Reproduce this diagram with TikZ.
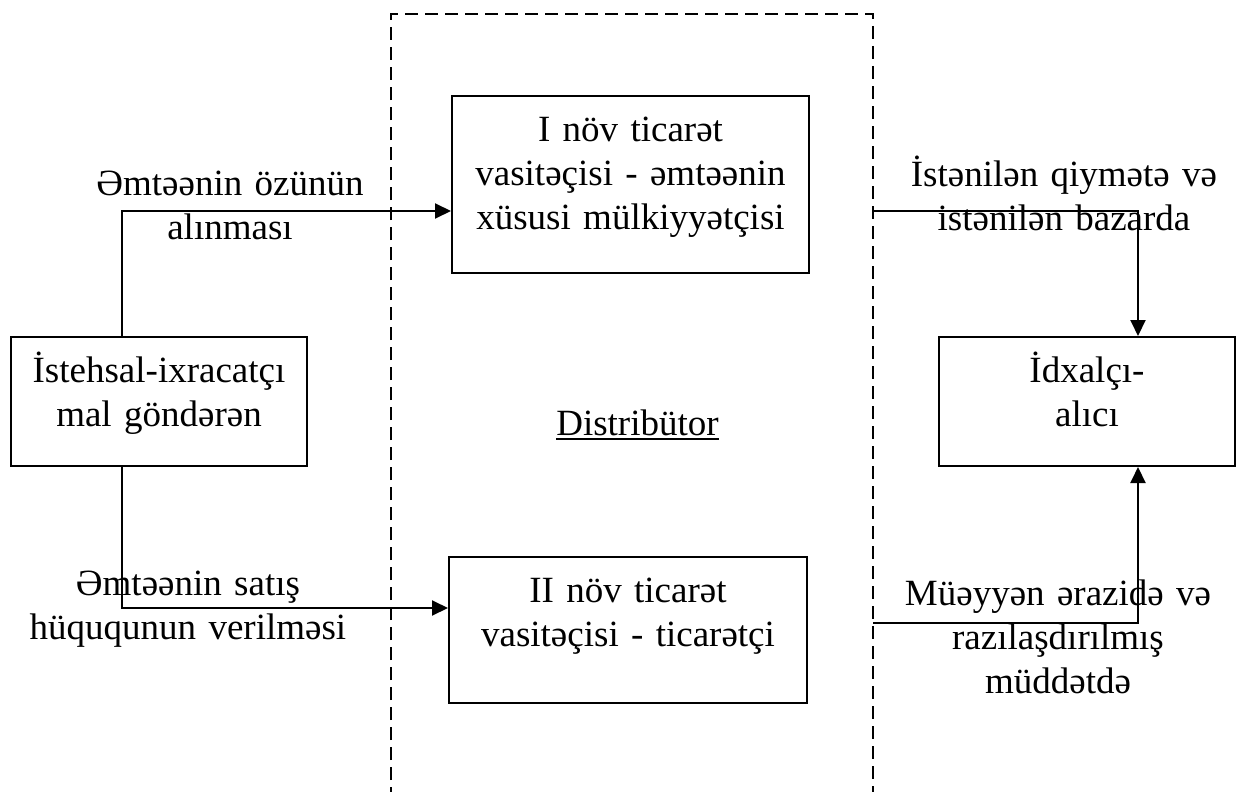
\documentclass[tikz,border=0pt]{standalone}
\usepackage{fontspec}
\setmainfont{Liberation Serif}
\usetikzlibrary{arrows.meta}
\begin{document}
\begin{tikzpicture}[x=1pt,y=-1pt,
  box/.style={draw, line width=2pt, rectangle, inner sep=0pt},
  txt/.style={font=\fontsize{37}{44}\selectfont, align=center, text width=420pt, inner sep=0pt, anchor=base},
  link/.style={line width=2pt},
  arr/.style={link, -{Triangle[length=16pt,width=15pt]}},
  frame/.style={line width=2pt, dash pattern=on 13pt off 7pt}]
\useasboundingbox (0,0) rectangle (1237,792);

% distributor frame (open at the bottom)
\coordinate (fl) at (391,14);
\coordinate (fr) at (873,14);
\draw[frame] (391,800) -- (fl) -- (fr) -- (873,800);
\node[txt] (dist) at (637.5,435) {Distribütor};
\draw[line width=2pt] ([yshift=-4pt]dist.base -| 556,0) -- ([yshift=-4pt]dist.base -| 719,0);

% boxes
\node[box, minimum width=357pt, minimum height=177pt] (B1) at (630.5,184.5) {};
\node[box, minimum width=358pt, minimum height=146pt] (B2) at (628,630) {};
\node[box, minimum width=296pt, minimum height=129pt] (L) at (159,401.5) {};
\node[box, minimum width=296pt, minimum height=129pt] (R) at (1087,401.5) {};

\node[txt] (B1t) at ([yshift=-46pt]B1.north) {I növ ticarət\\vasitəçisi - əmtəənin\\xüsusi mülkiyyətçisi};
\node[txt] (B2t) at ([yshift=-46pt]B2.north) {II növ ticarət\\vasitəçisi - ticarətçi};
\node[txt] (Lt) at ([yshift=-46pt]L.north) {İstehsal-ixracatçı\\mal göndərən};
\node[txt] (Rt) at ([yshift=-46pt]R.north) {İdxalçı-\\alıcı};

% connector bends
\coordinate (j1) at (122,211);
\coordinate (j2) at (122,608);
\coordinate (o1) at (873,211);
\coordinate (o2) at (873,623);
\coordinate (k1) at (1138,211);
\coordinate (k2) at (1138,623);

\draw[arr] (L.north -| j1) -- (j1) -- (B1.west |- j1);
\draw[arr] (L.south -| j2) -- (j2) -- (B2.west |- j2);
\draw[arr] (o1) -- (k1) -- (R.north -| k1);
\draw[arr] (o2) -- (k2) -- (R.south -| k2);

% connector labels
\node[txt] (l1) at (230,195) {Əmtəənin özünün\\alınması};
\node[txt] (l2) at (188,595) {Əmtəənin satış\\hüququnun verilməsi};
\node[txt] (l3) at (1064,186) {İstənilən qiymətə və\\istənilən bazarda};
\node[txt] (l4) at (1058,605) {Müəyyən ərazidə və\\razılaşdırılmış\\müddətdə};
\end{tikzpicture}
\end{document}
